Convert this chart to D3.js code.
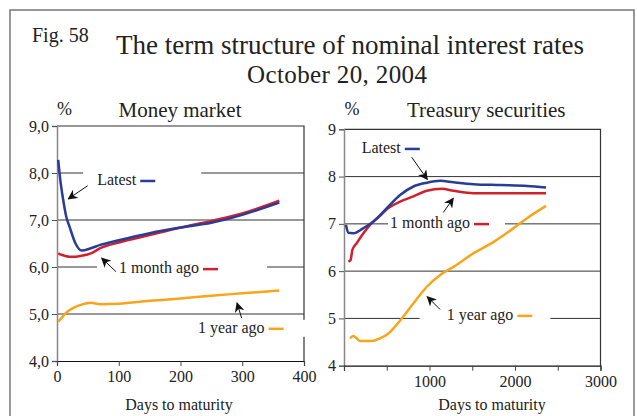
<!DOCTYPE html>
<html>
<head>
<meta charset="utf-8">
<script src="https://cdn.jsdelivr.net/npm/d3@7"></script>
<style>
  body { margin: 0; background: #fff; }
  svg { display: block; font-family: "Liberation Serif", "Times New Roman", serif; }
</style>
</head>
<body>
<svg id="chart" width="637" height="416"></svg>
<script>
// Money market (days to maturity, %)
const mmDays = [2, 5, 10, 15, 20, 30, 40, 55, 70, 100, 150, 200, 250, 300, 360];
const mmLatest = [8.28, 7.89, 7.43, 7.07, 6.87, 6.50, 6.35, 6.40, 6.47, 6.57, 6.72, 6.84, 6.94, 7.11, 7.37];
const mmMonthAgo = [6.29, 6.27, 6.25, 6.23, 6.22, 6.22, 6.24, 6.29, 6.40, 6.52, 6.68, 6.84, 6.98, 7.14, 7.41];
const mmYearAgo = [4.84, 4.88, 4.96, 5.03, 5.08, 5.15, 5.20, 5.24, 5.21, 5.22, 5.28, 5.33, 5.39, 5.44, 5.50];

// Treasury securities
const tsLatestDays = [23, 51, 109, 227, 344, 500, 656, 812, 969, 1125, 1281, 1516, 1828, 2141, 2363];
const tsLatest = [6.98, 6.81, 6.80, 6.91, 7.05, 7.33, 7.61, 7.79, 7.87, 7.91, 7.88, 7.84, 7.82, 7.80, 7.77];
const tsMonthDays = [51, 78, 98, 148, 227, 305, 422, 500, 656, 812, 969, 1145, 1281, 1516, 2363];
const tsMonthAgo = [6.20, 6.24, 6.45, 6.59, 6.80, 6.98, 7.17, 7.31, 7.47, 7.58, 7.70, 7.74, 7.70, 7.65, 7.65];
const tsYearDays = [70, 109, 148, 188, 324, 422, 520, 598, 695, 812, 969, 1125, 1281, 1516, 1750, 1984, 2141, 2363];
const tsYearAgo = [4.58, 4.63, 4.58, 4.52, 4.52, 4.58, 4.68, 4.83, 5.04, 5.32, 5.67, 5.92, 6.09, 6.38, 6.62, 6.91, 7.12, 7.38];

const mmXTicks = [0, 100, 200, 300, 400];
const tsXTicks = [0, 500, 1000, 1500, 2000, 2500, 3000];
const tsXLabels = [1000, 2000, 3000];
const yTicks = [4, 5, 6, 7, 8, 9];

const colors = { latest: "#283c98", month: "#d0202e", year: "#f8a51c" };

// annotations: label position, arrow tail/head in data units
const mmNotes = [
  { text: "Latest", key: "latest", x: 65, y: 7.745, bg: [-14, 40], from: [49.7, 7.73], to: [18.3, 7.45] },
  { text: "1 month ago", key: "month", x: 100.4, y: 5.87, bg: [-22, 43], from: [95.5, 5.90], to: [72.4, 6.19] },
  { text: "1 year ago", key: "year", x: 228.3, y: 4.60, bg: [-13, 30], from: [299, 4.915], to: [291.5, 5.234] }
];
const tsNotes = [
  { text: "Latest", key: "latest", x: 207, y: 8.50, bg: [-4, 4], from: [792, 8.41], to: [974, 7.94] },
  { text: "1 month ago", key: "month", x: 538, y: 6.91, bg: [-2, 10], from: [1161, 7.24], to: [1278, 7.54] },
  { text: "1 year ago", key: "year", x: 1201, y: 4.97, bg: [-27, 12], from: [1123, 5.19], to: [974, 5.46] }
];

const svg = d3.select("#chart");

svg.append("defs").append("marker")
  .attr("id", "head")
  .attr("viewBox", "0 0 10 10")
  .attr("refX", 9).attr("refY", 5)
  .attr("markerWidth", 10).attr("markerHeight", 10)
  .attr("markerUnits", "userSpaceOnUse")
  .attr("orient", "auto")
  .append("path").attr("d", "M0,0 L10,5 L0,10 L3,5 Z").attr("fill", "#111");

// outer frame
svg.append("rect")
  .attr("x", 10).attr("y", 10).attr("width", 624).attr("height", 420)
  .attr("fill", "none").attr("stroke", "#777").attr("stroke-width", 1.5);

svg.append("text").attr("x", 32).attr("y", 42).attr("font-size", 20).attr("fill", "#222").text("Fig. 58");
svg.append("text").attr("x", 350).attr("y", 54).attr("text-anchor", "middle")
  .attr("font-size", 27).attr("fill", "#222").text("The term structure of nominal interest rates");
svg.append("text").attr("x", 337).attr("y", 82.5).attr("text-anchor", "middle")
  .attr("font-size", 25).attr("fill", "#222").attr("textLength", 180).text("October 20, 2004");

function panel(opt) {
  const x = d3.scaleLinear().domain(opt.xDomain).range([opt.left, opt.right]);
  const y = d3.scaleLinear().domain([4, 9]).range([opt.bottom, opt.top]);
  const g = svg.append("g");

  g.append("text").attr("x", (opt.left + opt.right) / 2 + opt.titleDx).attr("y", 117)
    .attr("text-anchor", "middle").attr("font-size", 21).attr("fill", "#222").text(opt.title);
  g.append("text").attr("x", opt.left + opt.pctDx).attr("y", 115)
    .attr("text-anchor", "middle").attr("font-size", 18).attr("fill", "#222").text("%");

  // gridlines
  g.append("g").selectAll("line")
    .data(yTicks.filter(d => d > 4 && d < 9))
    .join("line")
    .attr("x1", opt.left).attr("x2", opt.right)
    .attr("y1", d => y(d)).attr("y2", d => y(d))
    .attr("stroke", "#333").attr("stroke-width", 1);

  // frame top/right
  g.append("path")
    .attr("d", `M${opt.left},${opt.top}H${opt.right}V${opt.bottom}`)
    .attr("fill", "none").attr("stroke", "#333").attr("stroke-width", 1.2);

  const yAxis = g.append("g")
    .attr("transform", `translate(${opt.left},0)`)
    .call(d3.axisLeft(y).tickValues(yTicks).tickSize(5).tickPadding(3).tickFormat(opt.yFormat));
  yAxis.select(".domain").attr("stroke", "#888").attr("stroke-width", 1.5);
  yAxis.selectAll(".tick line").attr("stroke", "#555");

  const xAxis = g.append("g")
    .attr("transform", `translate(0,${opt.bottom})`)
    .call(d3.axisBottom(x).tickValues(opt.xTicks).tickSize(5).tickPadding(5)
      .tickFormat(d => opt.xLabels.includes(d) ? d : ""));
  xAxis.select(".domain").attr("stroke", "#111").attr("stroke-width", 1.2);
  xAxis.selectAll(".tick line").attr("stroke", "#444");

  g.selectAll(".tick text").attr("font-size", 16).attr("fill", "#222")
    .attr("font-family", "Liberation Serif, serif");

  g.append("text").attr("x", opt.xLabelX).attr("y", 410)
    .attr("text-anchor", "middle").attr("font-size", 16).attr("fill", "#222").text("Days to maturity");

  // annotation labels with white backing
  const notes = g.append("g");
  opt.notes.forEach(n => {
    const tx = x(n.x), ty = y(n.y);
    const label = notes.append("text").attr("x", tx).attr("y", ty)
      .attr("font-size", 16).attr("fill", "#222").text(n.text);
    const w = label.node().getComputedTextLength();
    notes.insert("rect", "text")
      .attr("x", tx + n.bg[0]).attr("y", ty - 13)
      .attr("width", w + 25 - n.bg[0] + n.bg[1]).attr("height", 17)
      .attr("fill", "#fff");
    notes.append("line")
      .attr("x1", tx + w + 4).attr("x2", tx + w + 19)
      .attr("y1", ty - 4).attr("y2", ty - 4)
      .attr("stroke", colors[n.key]).attr("stroke-width", 2.5);
  });

  const line = d3.line().x(d => x(d[0])).y(d => y(d[1])).curve(d3.curveMonotoneX);
  opt.series.forEach(s => {
    g.append("path")
      .datum(d3.zip(s.days, s.values))
      .attr("d", line)
      .attr("fill", "none")
      .attr("stroke", colors[s.key])
      .attr("stroke-width", 2.5)
      .attr("stroke-linejoin", "round");
  });

  opt.notes.forEach(n => {
    g.append("line")
      .attr("x1", x(n.from[0])).attr("y1", y(n.from[1]))
      .attr("x2", x(n.to[0])).attr("y2", y(n.to[1]))
      .attr("stroke", "#111").attr("stroke-width", 1)
      .attr("marker-end", "url(#head)");
  });
}

panel({
  left: 57, right: 304, top: 126, bottom: 361,
  xDomain: [0, 400], xTicks: mmXTicks, xLabels: mmXTicks,
  yFormat: d => d3.format(".1f")(d).replace(".", ","),
  title: "Money market", titleDx: -0.5, pctDx: 7.5, xLabelX: 179,
  notes: mmNotes,
  series: [
    { key: "year", days: mmDays, values: mmYearAgo },
    { key: "month", days: mmDays, values: mmMonthAgo },
    { key: "latest", days: mmDays, values: mmLatest }
  ]
});

panel({
  left: 344, right: 600.5, top: 129.3, bottom: 365.7,
  xDomain: [0, 3000], xTicks: tsXTicks, xLabels: tsXLabels,
  yFormat: d3.format("d"),
  title: "Treasury securities", titleDx: 14, pctDx: 8, xLabelX: 492,
  notes: tsNotes,
  series: [
    { key: "year", days: tsYearDays, values: tsYearAgo },
    { key: "month", days: tsMonthDays, values: tsMonthAgo },
    { key: "latest", days: tsLatestDays, values: tsLatest }
  ]
});
</script>
</body>
</html>
